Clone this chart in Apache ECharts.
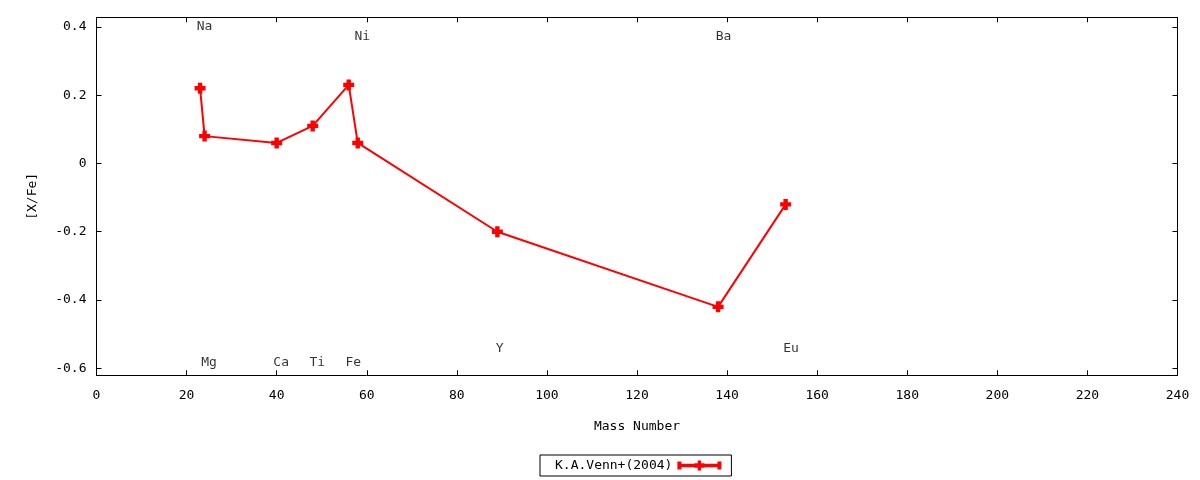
<!DOCTYPE html>
<html>
<head>
<meta charset="utf-8">
<script src="https://cdn.jsdelivr.net/npm/echarts@6/dist/echarts.min.js"></script>
<style>
html,body{margin:0;padding:0;background:#fff;}
#c{width:1200px;height:480px;}
</style>
</head>
<body>
<div id="c"></div>
<script>
// Data: [mass number, [X/Fe]]
var massNumbers = [23, 24, 40, 48, 56, 58, 89, 138, 153];
var xfeValues = [0.22, 0.08, 0.06, 0.11, 0.23, 0.06, -0.20, -0.42, -0.12];
var seriesName = 'K.A.Venn+(2004)';

// Element annotation labels (data coordinates)
var labelNames = ['Na', 'Mg', 'Ca', 'Ti', 'Fe', 'Ni', 'Y', 'Ba', 'Eu'];
var labelX = [24, 25, 41, 49, 57, 59, 89.5, 139.2, 154.2];
var labelY = [0.40, -0.583, -0.583, -0.583, -0.583, 0.37, -0.542, 0.37, -0.542];

// Axis ticks
var xTicks = [0, 20, 40, 60, 80, 100, 120, 140, 160, 180, 200, 220, 240];
var yTicks = [-0.6, -0.4, -0.2, 0, 0.2, 0.4];

var FONT = 'DejaVu Sans Mono';
var plus = 'path://M3,0 H7 V3 H10 V7 H7 V10 H3 V7 H0 V3 H3 Z';
var legendIcon = 'path://M0,2 H4 V10 H0 Z M40,2 H44 V10 H40 Z M0,4.3 H44 V7.7 H0 Z M20.3,1 H23.7 V11 H20.3 Z M17,3.7 H27 V8.3 H17 Z';

var mainData = massNumbers.map(function (m, i) { return [m, xfeValues[i]]; });
var labelData = labelNames.map(function (n, i) { return { name: n, value: [labelX[i], labelY[i]] }; });

function fmtY(v) {
  if (Math.abs(v) < 1e-9) return '0';
  return v.toFixed(1);
}

var axisLineStyle = { color: '#000', width: 1 };
var chart = echarts.init(document.getElementById('c'), null, { renderer: 'canvas' });
chart.setOption({
  animation: false,
  backgroundColor: '#fff',
  textStyle: { fontFamily: FONT },
  grid: { left: 96.5, right: 22.5, top: 17.3, bottom: 104.7, containLabel: false },
  xAxis: [{
    type: 'value', min: 0, max: 240, interval: 20,
    name: 'Mass Number', nameLocation: 'middle', nameGap: 45,
    nameTextStyle: { fontFamily: FONT, fontSize: 13, color: '#000' },
    axisLine: { show: true, onZero: false, lineStyle: axisLineStyle },
    axisTick: { show: true, inside: true, length: 5, lineStyle: axisLineStyle, customValues: xTicks },
    axisLabel: { show: true, margin: 14, fontFamily: FONT, fontSize: 13, color: '#000', customValues: xTicks, showMinLabel: true, showMaxLabel: true },
    splitLine: { show: false }
  }, {
    type: 'value', position: 'top', min: 0, max: 240, interval: 20,
    axisLine: { show: true, onZero: false, lineStyle: axisLineStyle },
    axisTick: { show: true, inside: true, length: 5, lineStyle: axisLineStyle, customValues: xTicks },
    axisLabel: { show: false },
    splitLine: { show: false }
  }],
  yAxis: [{
    type: 'value', min: -0.6205, max: 0.428,
    name: '[X/Fe]', nameLocation: 'middle', nameGap: 57, nameRotate: 90,
    nameTextStyle: { fontFamily: FONT, fontSize: 13, color: '#000' },
    axisLine: { show: true, onZero: false, lineStyle: axisLineStyle },
    axisTick: { show: true, inside: true, length: 5, lineStyle: axisLineStyle, customValues: yTicks },
    axisLabel: { show: true, margin: 10, fontFamily: FONT, fontSize: 13, color: '#000', customValues: yTicks, formatter: fmtY },
    splitLine: { show: false }
  }, {
    type: 'value', position: 'right', min: -0.6205, max: 0.428,
    axisLine: { show: true, onZero: false, lineStyle: axisLineStyle },
    axisTick: { show: true, inside: true, length: 5, lineStyle: axisLineStyle, customValues: yTicks },
    axisLabel: { show: false },
    splitLine: { show: false }
  }],
  legend: {
    show: true,
    data: [{ name: seriesName, icon: legendIcon }],
    left: 540, top: 455,
    align: 'right',
    itemWidth: 44, itemHeight: 12,
    padding: [4, 10, 4, 15],
    borderColor: '#000', borderWidth: 1, borderRadius: 0,
    textStyle: { fontFamily: FONT, fontSize: 13, color: '#000' },
    itemStyle: { color: '#ff0000' },
    selectedMode: false
  },
  series: [{
    name: seriesName,
    type: 'line',
    data: mainData,
    xAxisIndex: 0, yAxisIndex: 0,
    symbol: plus, symbolSize: 11,
    showAllSymbol: true,
    lineStyle: { color: '#ff0000', width: 2 },
    itemStyle: { color: '#ff0000' },
    z: 3
  }, {
    name: 'labels',
    type: 'scatter',
    data: labelData,
    xAxisIndex: 0, yAxisIndex: 0,
    symbolSize: 1,
    itemStyle: { color: 'rgba(0,0,0,0)' },
    silent: true,
    label: {
      show: true, position: 'inside',
      formatter: function (p) { return p.name; },
      fontFamily: FONT, fontSize: 13, color: '#000'
    },
    z: 4
  }]
});
</script>
</body>
</html>
